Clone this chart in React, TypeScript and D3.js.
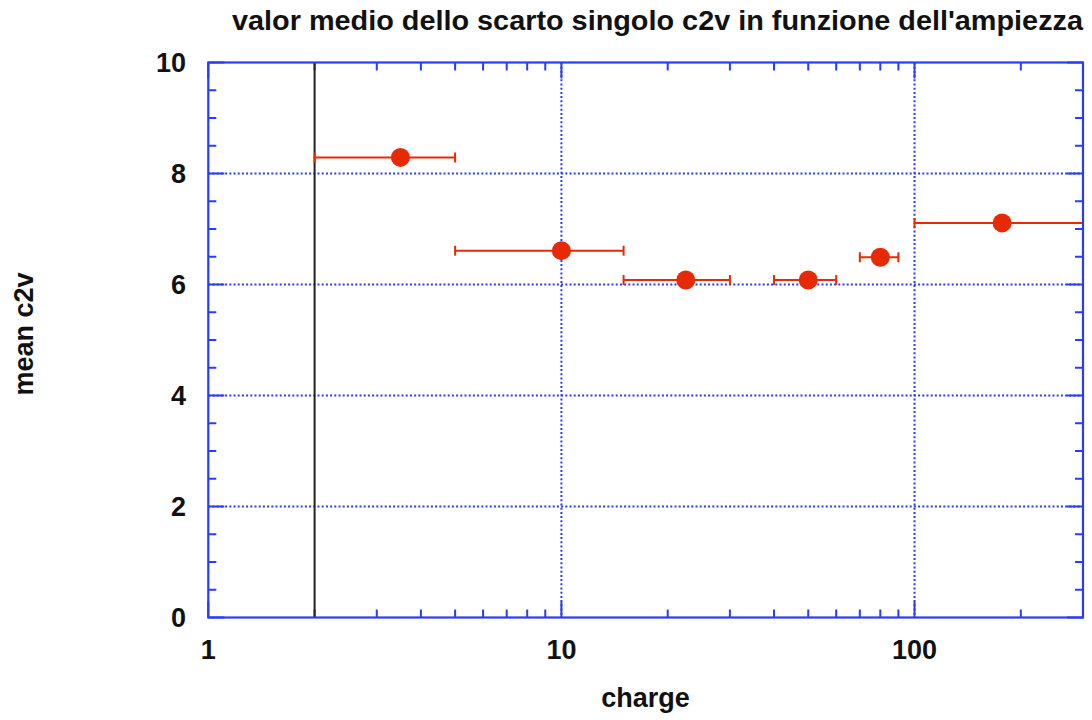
import React from "react";
import * as d3 from "d3";

const charge = [3.5, 10, 22.5, 50, 80, 177];
const chargeLow = [2, 5, 15, 40, 70, 100];
const chargeHigh = [5, 15, 30, 60, 90, 350];
const meanC2v = [8.29, 6.61, 6.08, 6.08, 6.49, 7.11];
const xTickValues = [1, 10, 100];
const yTickValues = [0, 2, 4, 6, 8, 10];
const thresholdCharge = 2;
const title = "valor medio dello scarto singolo c2v in funzione dell'ampiezza";

const W = 1092;
const H = 720;
const L = 208.3;
const R = 1083;
const T = 62.5;
const B = 617.5;
const BLUE = "#2b3df2";
const RED = "#e62a06";
const FONT = "'Liberation Sans', Arial, Helvetica, sans-serif";

export default function App() {
  const x = d3.scaleLog().domain([1, 300]).range([L, R]);
  const y = d3.scaleLinear().domain([0, 10]).range([B, T]);

  const xMinor: number[] = [];
  [1, 10, 100].forEach((d) => {
    for (let k = 2; k <= 9; k++) {
      const v = d * k;
      if (v <= 300) xMinor.push(v);
    }
  });
  const yMinor = d3.range(0, 10.01, 0.5).filter((v) => Math.abs(v / 2 - Math.round(v / 2)) > 1e-6);

  const data = charge.map((c, i) => ({ c, lo: chargeLow[i], hi: chargeHigh[i], v: meanC2v[i] }));

  return (
    <svg width={W} height={H} style={{ position: "absolute", left: 0, top: 0, background: "#fff" }} fontFamily={FONT}>
      <defs>
        <clipPath id="plot">
          <rect x={L} y={T} width={R - L} height={B - T} />
        </clipPath>
      </defs>
      {/* grid */}
      {yTickValues.filter((v) => v > 0 && v < 10).map((v) => (
        <line key={"gy" + v} x1={L} x2={R} y1={y(v)} y2={y(v)} stroke={BLUE} strokeWidth={2} strokeDasharray="2,2.2" />
      ))}
      {xTickValues.filter((v) => v > 1).map((v) => (
        <line key={"gx" + v} x1={x(v)} x2={x(v)} y1={T} y2={B} stroke={BLUE} strokeWidth={2} strokeDasharray="2,2.2" />
      ))}
      {/* minor ticks */}
      {xMinor.map((v) => (
        <g key={"mx" + v}>
          <line x1={x(v)} x2={x(v)} y1={B} y2={B - 8} stroke={BLUE} strokeWidth={2} />
          <line x1={x(v)} x2={x(v)} y1={T} y2={T + 8} stroke={BLUE} strokeWidth={2} />
        </g>
      ))}
      {yMinor.map((v) => (
        <g key={"my" + v}>
          <line x1={L} x2={L + 8} y1={y(v)} y2={y(v)} stroke={BLUE} strokeWidth={2} />
          <line x1={R} x2={R - 8} y1={y(v)} y2={y(v)} stroke={BLUE} strokeWidth={2} />
        </g>
      ))}
      {/* major ticks */}
      {xTickValues.map((v) => (
        <g key={"Mx" + v}>
          <line x1={x(v)} x2={x(v)} y1={B} y2={B - 16} stroke={BLUE} strokeWidth={2} />
          <line x1={x(v)} x2={x(v)} y1={T} y2={T + 16} stroke={BLUE} strokeWidth={2} />
        </g>
      ))}
      {yTickValues.map((v) => (
        <g key={"My" + v}>
          <line x1={L} x2={L + 16} y1={y(v)} y2={y(v)} stroke={BLUE} strokeWidth={2} />
          <line x1={R} x2={R - 16} y1={y(v)} y2={y(v)} stroke={BLUE} strokeWidth={2} />
        </g>
      ))}
      {/* threshold line */}
      <line x1={x(thresholdCharge)} x2={x(thresholdCharge)} y1={T} y2={B} stroke="#222" strokeWidth={2} />
      {/* data */}
      <g clipPath="url(#plot)">
        {data.map((d, i) => (
          <g key={"d" + i}>
            <line x1={x(d.lo)} x2={x(d.hi)} y1={y(d.v)} y2={y(d.v)} stroke={RED} strokeWidth={2} />
            <line x1={x(d.lo)} x2={x(d.lo)} y1={y(d.v) - 5} y2={y(d.v) + 5} stroke={RED} strokeWidth={2} />
            <line x1={x(d.hi)} x2={x(d.hi)} y1={y(d.v) - 5} y2={y(d.v) + 5} stroke={RED} strokeWidth={2} />
            <circle cx={x(d.c)} cy={y(d.v)} r={9.5} fill={RED} />
          </g>
        ))}
      </g>
      {/* frame */}
      <rect x={L} y={T} width={R - L} height={B - T} fill="none" stroke={BLUE} strokeWidth={2.2} />
      {/* tick labels */}
      {xTickValues.map((v) => (
        <text key={"lx" + v} x={x(v)} y={659} textAnchor="middle" fontSize={27} fontWeight="bold" fill="#111">
          {v}
        </text>
      ))}
      {yTickValues.map((v) => (
        <text key={"ly" + v} x={186} y={y(v) + 9.5} textAnchor="end" fontSize={27} fontWeight="bold" fill="#111">
          {v}
        </text>
      ))}
      {/* titles */}
      <text x={232} y={30} fontSize={27} fontWeight="bold" fill="#111" textLength={851} lengthAdjust="spacingAndGlyphs">
        {title}
      </text>
      <text x={645.5} y={707} textAnchor="middle" fontSize={27} fontWeight="bold" fill="#111">
        charge
      </text>
      <text transform="translate(33,334) rotate(-90)" textAnchor="middle" fontSize={27} fontWeight="bold" fill="#111">
        mean c2v
      </text>
    </svg>
  );
}
